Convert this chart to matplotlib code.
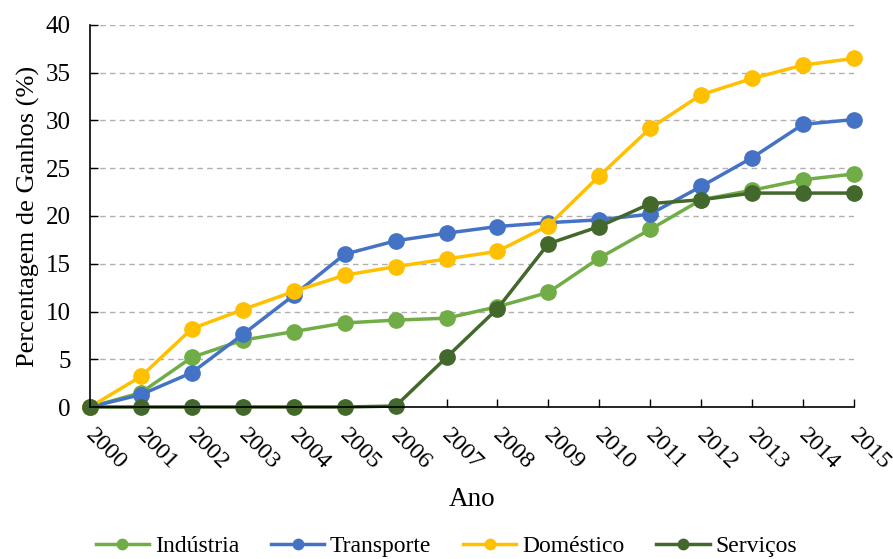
import matplotlib.pyplot as plt
import matplotlib.transforms as mtransforms

years = list(range(2000, 2016))
industria = [0, 1.5, 5.2, 7.0, 7.9, 8.8, 9.1, 9.3, 10.5, 12.0, 15.6, 18.6, 21.7, 22.7, 23.8, 24.4]
transporte = [0, 1.3, 3.6, 7.6, 11.7, 16.0, 17.4, 18.2, 18.9, 19.3, 19.6, 20.2, 23.1, 26.1, 29.6, 30.1]
domestico = [0, 3.2, 8.2, 10.2, 12.1, 13.8, 14.7, 15.5, 16.3, 19.0, 24.2, 29.2, 32.7, 34.4, 35.8, 36.5]
servicos = [0, 0, 0, 0, 0, 0, 0.1, 5.2, 10.3, 17.1, 18.9, 21.3, 21.7, 22.4, 22.4, 22.4]

series = [
    ('Indústria', industria, '#70AD47'),
    ('Transporte', transporte, '#4472C4'),
    ('Doméstico', domestico, '#FFC000'),
    ('Serviços', servicos, '#43682B'),
]

plt.rcParams['font.family'] = ['Liberation Serif', 'DejaVu Serif']
plt.rcParams['font.size'] = 18

fig = plt.figure(figsize=(8.93, 5.59), dpi=100)
ax = fig.add_axes([0.1008, 0.2719, 0.8555, 0.6834])

for name, values, color in series:
    ax.plot(years, values, color=color, linewidth=2.5, marker='o', markersize=11,
            label=name, clip_on=False)

ax.set_xlim(2000, 2015)
ax.set_ylim(0, 40)
ax.set_yticks(range(0, 41, 5))
ax.set_xticks(years)
ax.set_xticklabels([str(y) for y in years], rotation=-45, ha='left', va='top',
                   rotation_mode='anchor', fontsize=17.5)
ax.tick_params(axis='x', direction='in', length=6, width=1, pad=13)
ax.tick_params(axis='y', direction='in', length=6, width=1, pad=14, labelsize=18)

# nudge the slanted year labels a little to the right
shift = mtransforms.ScaledTranslation(6 / 100, 0, fig.dpi_scale_trans)
for lbl in ax.get_xticklabels():
    lbl.set_transform(lbl.get_transform() + shift)

ax.yaxis.grid(True, linestyle=(0, (4, 3)), color='#b0b0b0', linewidth=1)
ax.set_axisbelow(True)
for side in ['top', 'right']:
    ax.spines[side].set_visible(False)
for side in ['left', 'bottom']:
    ax.spines[side].set_linewidth(1.2)

ax.set_xlabel('Ano', fontsize=19.5)
ax.set_ylabel('Percentagem de Ganhos (%)', fontsize=19)
ax.xaxis.set_label_coords(0.5, -0.21)
ax.yaxis.set_label_coords(-0.066, 0.5)

fig.legend(loc='center', bbox_to_anchor=(0.5, 0.022), ncol=4, frameon=False,
           fontsize=17, handlelength=2.25, columnspacing=1.35, handletextpad=0.25,
           markerscale=0.68)

plt.savefig('out.png', dpi=100)
plt.close()
